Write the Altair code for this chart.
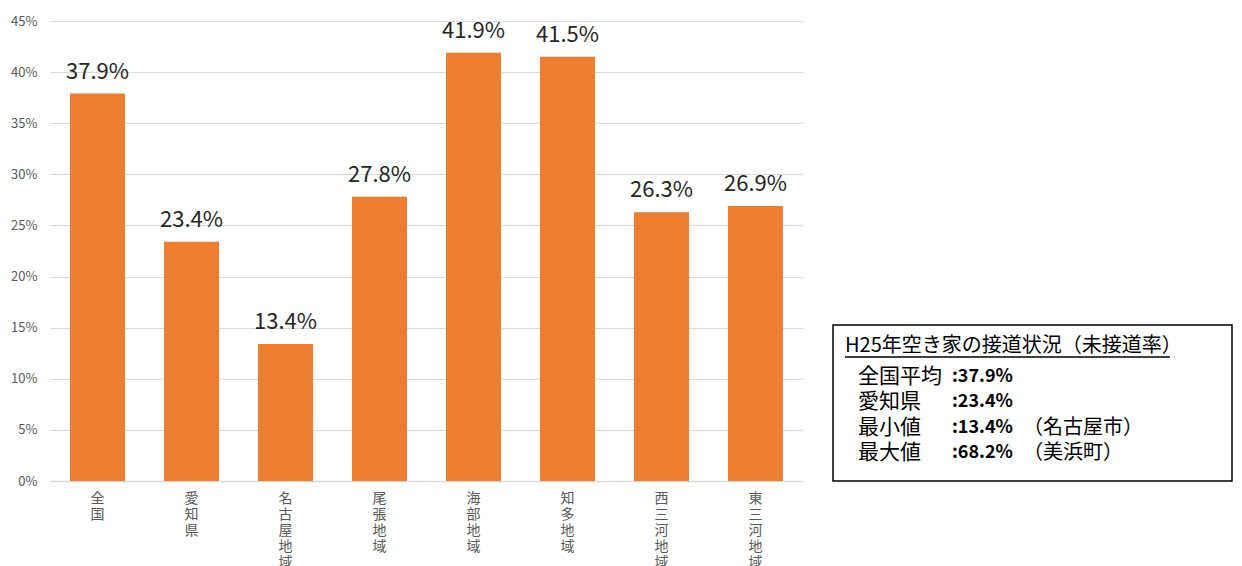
import altair as alt
import pandas as pd

regions = ["全国", "愛知県", "名古屋地域", "尾張地域", "海部地域", "知多地域", "西三河地域", "東三河地域"]
rates = [37.9, 23.4, 13.4, 27.8, 41.9, 41.5, 26.3, 26.9]
y_ticks = [0, 5, 10, 15, 20, 25, 30, 35, 40, 45]

box_title = "H25年空き家の接道状況（未接道率）"
box_labels = ["全国平均", "愛知県", "最小値", "最大値"]
box_values = ["37.9%", "23.4%", "13.4%", "68.2%"]
box_notes = ["", "", "（名古屋市）", "（美浜町）"]

df = pd.DataFrame({"region": regions, "rate": rates})
df["label"] = df["rate"].map(lambda v: f"{v:.1f}%")

FONT = "Noto Sans CJK JP"

base = alt.Chart(df).encode(
    x=alt.X("region:N", sort=regions, title=None,
            scale=alt.Scale(paddingInner=0.415, paddingOuter=0.213),
            axis=alt.Axis(labelAngle=0, labelExpr="split(datum.label, '')",
                          labelFont=FONT, labelFontSize=14, labelColor="#595959",
                          labelLineHeight=16, labelPadding=10, labelBaseline="top",
                          ticks=False, domainColor="#d9d9d9", domainWidth=1.5)),
    y=alt.Y("rate:Q", title=None,
            scale=alt.Scale(domain=[0, 45], nice=False),
            axis=alt.Axis(values=y_ticks, labelExpr="datum.value + '%'",
                          labelFont=FONT, labelFontSize=13, labelColor="#595959",
                          labelPadding=13, ticks=False, domain=False,
                          gridColor="#d9d9d9", gridWidth=1)),
)

bars = base.mark_bar(color="#ED7D31")
texts = base.mark_text(dy=-22, fontSize=22, font=FONT, color="#262626").encode(text="label:N")

left = (bars + texts).properties(width=753, height=460)

box_df = pd.DataFrame({"row": list(range(1, 5)), "lab": box_labels,
                       "val": [":" + v for v in box_values], "note": box_notes})
title_df = pd.DataFrame({"lab": [box_title]})

yscale = alt.Scale(domain=[1, 4], range=[356, 432])
yenc = alt.Y("row:Q", scale=yscale, axis=None)

frame = alt.Chart(title_df).mark_rect(fill="white", stroke="#000000", strokeWidth=1.5).encode(
    x=alt.value(0), x2=alt.value(399), y=alt.value(304), y2=alt.value(460))
underline = alt.Chart(title_df).mark_rule(color="#000000", strokeWidth=1.5).encode(
    x=alt.value(12), x2=alt.value(337), y=alt.value(336))
title_t = alt.Chart(title_df).mark_text(align="left", baseline="middle", font=FONT,
                                        fontSize=20, color="#000000").encode(
    x=alt.value(12), y=alt.value(325), text="lab:N")
lab_t = alt.Chart(box_df).mark_text(align="left", baseline="middle", font=FONT,
                                    fontSize=21, color="#000000").encode(
    x=alt.value(25), y=yenc, text="lab:N")
val_t = alt.Chart(box_df).mark_text(align="left", baseline="middle", font=FONT,
                                    fontSize=18, fontWeight="bold", color="#000000").encode(
    x=alt.value(119), y=yenc, text="val:N")
note_t = alt.Chart(box_df).mark_text(align="left", baseline="middle", font=FONT,
                                     fontSize=20, color="#000000").encode(
    x=alt.value(190), y=yenc, text="note:N")

right = (frame + underline + title_t + lab_t + val_t + note_t).properties(width=399, height=460)

chart = alt.hconcat(left, right, spacing=29).properties(
    padding={"left": 2, "top": 7, "right": 0, "bottom": 0}
).configure(background="white").configure_view(stroke=None)

chart.save("out.html", embed_options={"renderer": "svg", "actions": False})
